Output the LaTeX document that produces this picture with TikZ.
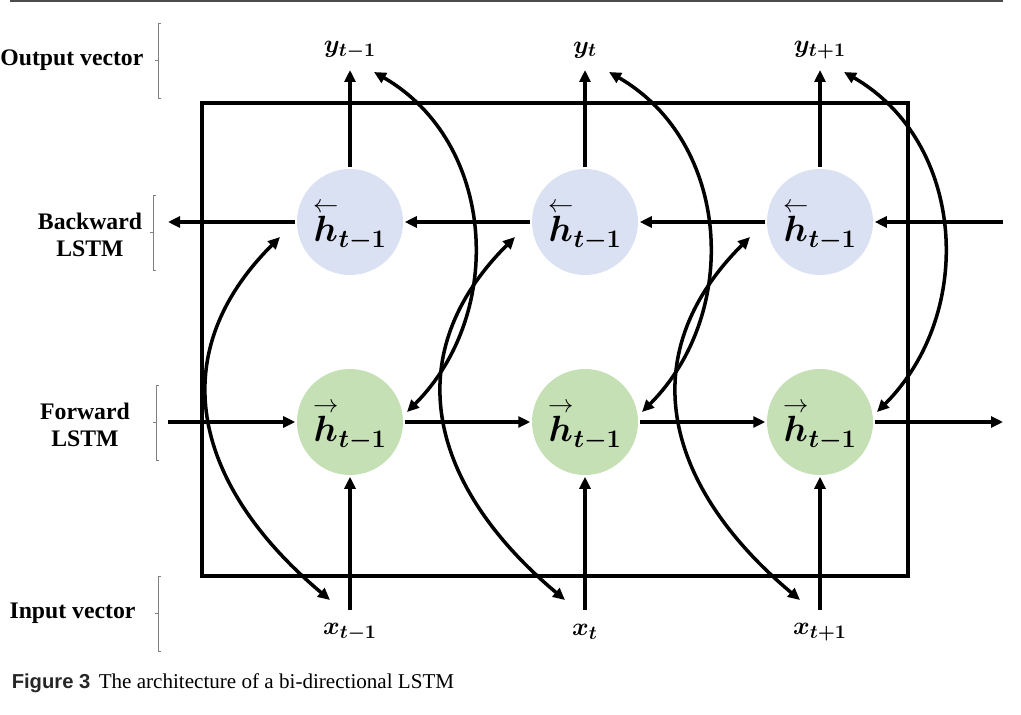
\documentclass[tikz,border=0pt]{standalone}
\usepackage{amsmath,amssymb}
\usepackage{bm}
\usepackage{fontspec}
\setmainfont{Liberation Serif}
\setsansfont{Liberation Sans}
\usetikzlibrary{positioning, arrows.meta, calc}
\definecolor{bwdblue}{HTML}{DAE1F3}
\definecolor{fwdgreen}{HTML}{C5E0B4}
\newcommand{\Hbwd}{{\overset{\raisebox{-0.9ex}{$\scriptstyle\leftarrow$}}{\bm{h}}}}
\newcommand{\Hfwd}{{\overset{\raisebox{-0.9ex}{$\scriptstyle\rightarrow$}}{\bm{h}}}}

\begin{document}
\begin{tikzpicture}[>={Triangle[length=2.4mm,width=2.2mm]}, line width=2pt,
	cell/.style={circle, minimum size=2.12cm, inner sep=0pt, font=\fontsize{21}{25}\selectfont},
	bwd/.style={cell, fill=bwdblue},
	fwd/.style={cell, fill=fwdgreen},
	vec/.style={font=\fontsize{15}{18}\selectfont, inner sep=1pt},
	side/.style={font=\fontsize{13.5}{15}\selectfont\bfseries, align=center},
	brk/.style={line width=0.5pt, black!50}]
		
		% Page size
		\useasboundingbox (0,0) rectangle (20.42,14.28);
		
		% Top rule
		\draw[line width=0.8pt, black!70] (0.2,14.26) -- (20.06,14.26);
		
		% Draw box
		\draw (4.04,2.76) rectangle (18.16,12.22);
		
		% Draw cells, inputs and outputs
		\foreach \i/\x/\s in {1/7.0/{t-1}, 2/11.7/t, 3/16.4/{t+1}} {
			\node[bwd] (hb\i) at (\x,9.84) {$\Hbwd_{\bm{t-1}}$};
			\node[fwd] (hf\i) at (\x,5.84) {$\Hfwd_{\bm{t-1}}$};
			\node[vec] (y\i) at (\x,13.28) {$\bm{y_{\s}}$};
			\node[vec] (x\i) at (\x,1.64) {$\bm{x_{\s}}$};
			\coordinate (yt\i) at (\x,12.88);
			\coordinate (xs\i) at (\x,2.08);
			\draw[->] (hb\i) -- (yt\i);
			\draw[->] (xs\i) -- (hf\i);
		}
		
		% Recurrent links
		\coordinate (bin) at (20.06,9.84);
		\coordinate (bout) at (3.36,9.84);
		\coordinate (fin) at (3.36,5.84);
		\coordinate (fout) at (20.06,5.84);
		\draw[->] (bin) -- (hb3);
		\draw[->] (hb3) -- (hb2);
		\draw[->] (hb2) -- (hb1);
		\draw[->] (hb1) -- (bout);
		\draw[->] (fin) -- (hf1);
		\draw[->] (hf1) -- (hf2);
		\draw[->] (hf2) -- (hf3);
		\draw[->] (hf3) -- (fout);
		
		% Curved links
		\foreach \i in {1,2,3} {
			\draw[<->] ($(x\i)+(-0.4,0.64)$) to[out=140, in=225, looseness=1.2] ($(hb\i)+(-1.4,-0.3)$);
			\draw[<->] ($(hf\i)+(1.14,0.2)$) to[out=45, in=-30, looseness=1.05] ($(y\i)+(0.48,-0.44)$);
		}
		
		% Add side labels
		\node[side, anchor=east] (lout) at (3.02,13.07) {Output vector};
		\node[side] (lbwd) at (1.8,9.58) {Backward\\LSTM};
		\node[side] (lfwd) at (1.7,5.78) {Forward\\LSTM};
		\node[side] (lin) at (1.45,2.02) {Input vector};
		\foreach \bx/\by in {3.16/13.07, 3.06/9.63, 3.12/5.83, 3.16/2.01}
		\draw[brk] (\bx+0.05,\by+0.75) -- (\bx,\by+0.75) -- (\bx,\by-0.75) -- (\bx+0.05,\by-0.75) (\bx,\by) -- (\bx-0.06,\by);
		
		% Caption
		\node[anchor=base west, inner sep=0pt, font=\fontsize{11.5}{13}\sffamily\bfseries, text=black!85] (fig) at (0.2,0.52) {Figure 3};
		\node[anchor=base west, inner sep=0pt, font=\fontsize{12}{14}\selectfont] (cap) at (1.94,0.52) {The architecture of a bi-directional LSTM};
		
	\end{tikzpicture}
\end{document}
